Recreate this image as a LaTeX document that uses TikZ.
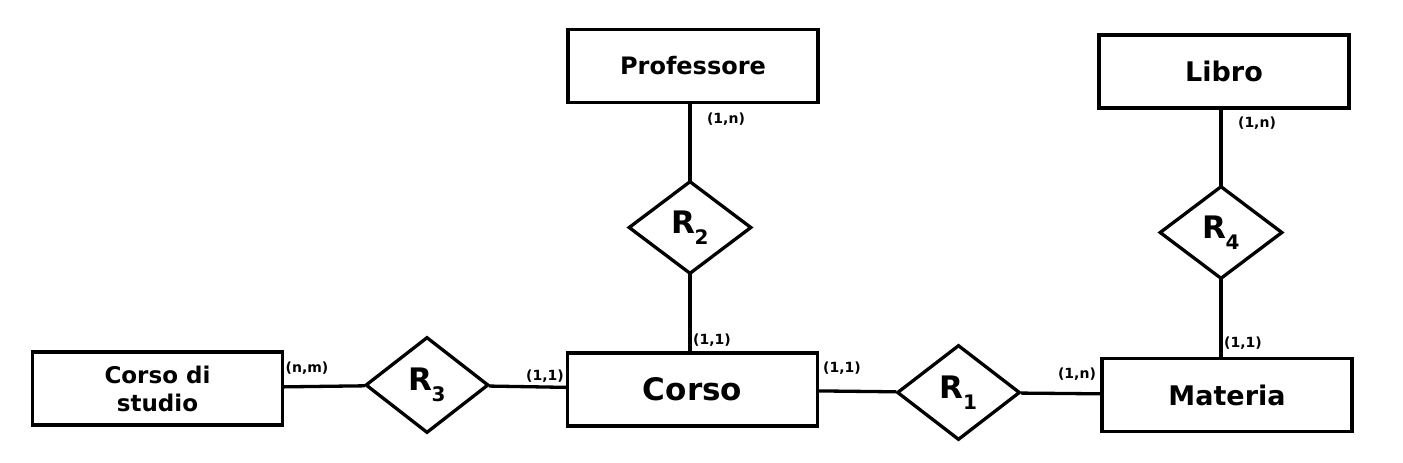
\documentclass[tikz,border=0pt]{standalone}
\usepackage{fontspec}
\setmainfont{DejaVu Sans}
\usetikzlibrary{shapes.geometric}
\newcommand{\relname}[1]{R\kern-0.5pt\raisebox{-0.34em}{\fontsize{20}{20}\selectfont #1}}
\begin{document}
\begin{tikzpicture}[x=1pt,y=-1pt,
  ent/.style={draw,line width=3.3pt,rectangle,inner sep=0pt,align=center,minimum width=250pt,minimum height=73pt},
  rel/.style={draw,line width=3.3pt,diamond,inner sep=0pt,minimum width=123pt,minimum height=93pt,font=\bfseries\fontsize{31}{31}\selectfont},
  card/.style={font=\bfseries\fontsize{14}{14}\selectfont,inner sep=0pt},
  conn/.style={line width=3.3pt},
  vconn/.style={line width=3.3pt,shorten <=-3pt}]
\fill[white] (0,0) rectangle (1403,463);
\useasboundingbox (0,0) rectangle (1403,463);

% entities
\node[ent,font=\bfseries\fontsize{24}{30}\selectfont] (prof) at (693,66) {Professore};
\node[ent,font=\bfseries\fontsize{27}{30}\selectfont] (libro) at (1224,71.5) {Libro};
\node[ent,font=\bfseries\fontsize{23}{28}\selectfont] (cds) at (157.5,388.5) {Corso di\\studio};
\node[ent,font=\bfseries\fontsize{31}{34}\selectfont] (corso) at (692.5,389.5) {Corso};
\node[ent,font=\bfseries\fontsize{27}{30}\selectfont] (materia) at (1227,395) {Materia};

% relationships
\node[rel] (r2) at (690,227.5) {\relname{2}};
\node[rel] (r4) at (1221,232.5) {\relname{4}};
\node[rel,minimum height=96pt] (r3) at (427,385) {\relname{3}};
\node[rel,minimum height=95pt] (r1) at (958.5,392.5) {\relname{1}};

% connectors
\draw[vconn] (r2.north) -- (r2.north |- prof.south);
\draw[vconn] (r2.south) -- (r2.south |- corso.north);
\draw[vconn] (r4.north) -- (r4.north |- libro.south);
\draw[vconn] (r4.south) -- (r4.south |- materia.north);
\draw[conn] (cds) -- (r3);
\draw[conn] (r3) -- (corso);
\draw[conn] (corso) -- (r1);
\draw[conn] (r1) -- (materia);

% cardinalities
\node[card] (c1) at (726,119) {(1,n)};
\node[card] (c2) at (712,340) {(1,1)};
\node[card] (c3) at (1257,123) {(1,n)};
\node[card] (c4) at (1243,343) {(1,1)};
\node[card] (c5) at (307,368) {(n,m)};
\node[card] (c6) at (545,376) {(1,1)};
\node[card] (c7) at (842,368) {(1,1)};
\node[card] (c8) at (1077,374) {(1,n)};
\end{tikzpicture}
\end{document}
